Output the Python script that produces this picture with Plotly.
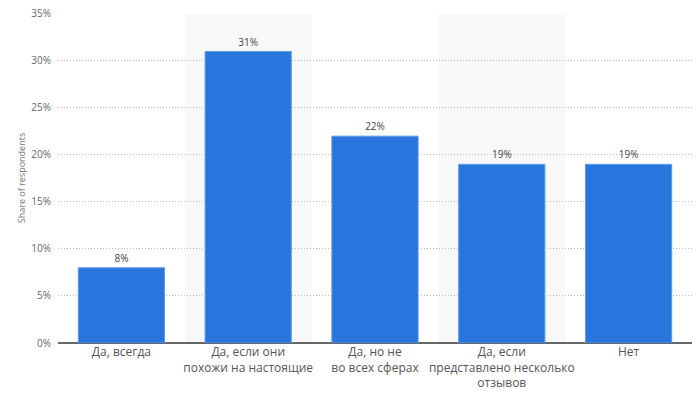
import plotly.graph_objects as go

categories = ["Да, всегда", "Да, если они<br>похожи на настоящие", "Да, но не<br>во всех сферах",
              "Да, если<br>представлено несколько<br>отзывов", "Нет"]
values = [8, 31, 22, 19, 19]
y_ticks = [0, 5, 10, 15, 20, 25, 30, 35]
y_tick_labels = [f"{v}%" for v in y_ticks]

fig = go.Figure()
fig.add_trace(go.Bar(
    x=list(range(len(categories))), y=values,
    marker=dict(color="#2876dd", line=dict(color="#5b9be8", width=1)),
    text=[f"{v}%" for v in values], textposition="outside",
    textfont=dict(family="Open Sans, sans-serif", size=10, color="#444"),
    cliponaxis=False,
))

for i in (1, 3):
    fig.add_shape(type="rect", xref="x", yref="y", x0=i - 0.5, x1=i + 0.5, y0=0, y1=35,
                  fillcolor="#f8f8f8", line=dict(width=0), layer="below")

fig.update_layout(
    width=700, height=398,
    margin=dict(l=58, r=8, t=13, b=55, autoexpand=False),
    paper_bgcolor="white", plot_bgcolor="white",
    bargap=0.32, showlegend=False,
    font=dict(family="Open Sans, sans-serif"),
)
fig.update_xaxes(
    tickmode="array", tickvals=list(range(len(categories))), ticktext=categories,
    range=[-0.5, 4.5], showgrid=False, ticks="", tickangle=0,
    tickfont=dict(size=12, color="#555"),
    showline=False, zeroline=False, automargin=False,
)
fig.update_yaxes(
    range=[0, 35.1], tickvals=y_ticks, ticktext=y_tick_labels,
    showgrid=True, gridcolor="#bbbbbb", griddash="1px,2px", gridwidth=1,
    zeroline=True, zerolinecolor="#666", zerolinewidth=2,
    tickfont=dict(size=10, color="#666"), ticks="", ticklabelstandoff=6,
    ticklabeloverflow="allow",
    title=dict(text="Share of respondents", font=dict(size=9, color="#777"), standoff=4),
    automargin=False,
)
fig.write_html("out.html", config={"displayModeBar": False},
               post_script="document.body.style.margin='0';")
